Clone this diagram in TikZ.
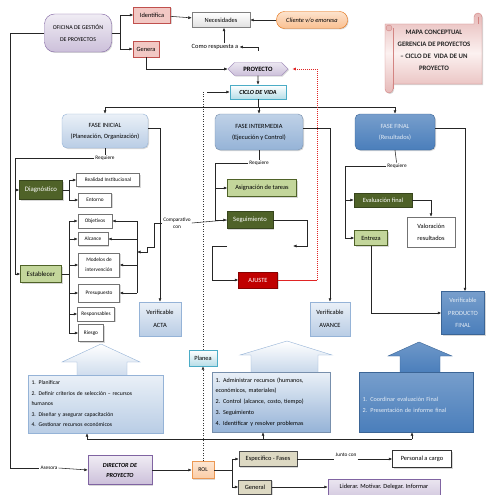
\documentclass[tikz,border=0pt]{standalone}
\usepackage{fontspec}
\setmainfont{Carlito}
\usetikzlibrary{arrows.meta,shapes.symbols,shadows}

\definecolor{oliva}{HTML}{4F6228}
\definecolor{verdeclaro}{HTML}{C3D69B}
\definecolor{rosado}{HTML}{F2C8C4}
\definecolor{rojizo}{HTML}{C0504D}
\definecolor{rojo}{HTML}{C00000}
\definecolor{rojovivo}{HTML}{E02424}
\definecolor{lila}{HTML}{CCC0DA}
\definecolor{lilaborde}{HTML}{8064A2}
\definecolor{azulclaro}{HTML}{B9CDE5}
\definecolor{azulmedio}{HTML}{95B3D7}
\definecolor{azul}{HTML}{4A7EBB}
\definecolor{celeste}{HTML}{B7DEE8}
\definecolor{celesteborde}{HTML}{4BACC6}
\definecolor{naranja}{HTML}{FAC090}
\definecolor{naranjaborde}{HTML}{E46C0A}
\definecolor{beige}{HTML}{DDD9C3}
\definecolor{rosatitulo}{HTML}{E6B9B8}

\begin{document}
\begin{tikzpicture}[x=1pt,y=-1pt,
  >={Latex[length=3.5pt,width=3pt]},
  every node/.style={font=\fontsize{6.4}{11}\selectfont, inner sep=1pt, align=center},
  linea/.style={draw=black!85, line width=0.55pt},
  punteada/.style={draw=black!80, line width=0.6pt, dash pattern=on 1pt off 1.5pt},
  chica/.style={font=\fontsize{5.3}{7.5}\selectfont},
  dim/.style 2 args={minimum width=#1, minimum height=#2},
  sombra/.style={drop shadow={shadow xshift=1pt, shadow yshift=-1pt, opacity=0.3}},
  blanco/.style={draw=black!55, fill=white, sombra},
  oscuro/.style={draw=oliva!70!black, fill=oliva, text=white, sombra},
  claro/.style={draw=oliva, fill=verdeclaro, sombra},
  rosa/.style={draw=rojizo, fill=rosado, sombra},
  morado/.style={draw=lilaborde, top color=white!70!lila, bottom color=lila, sombra},
  cian/.style={draw=celesteborde, top color=white, bottom color=celeste, sombra},
  faseclara/.style={draw=azulmedio, top color=white!70!azulclaro, bottom color=azulclaro, sombra},
  fasemedia/.style={draw=azulmedio!80!black, top color=white!40!azulmedio, bottom color=azulmedio, sombra},
  faseoscura/.style={draw=azul!80!black, top color=white!25!azul, bottom color=azul, text=white!85!azul, sombra},
  tostado/.style={draw=black!70, fill=beige, sombra}
]
\useasboundingbox (0,0) rectangle (495,495);
\fill[white] (0,0) rectangle (495,495);

% titulo
\draw[draw=rojizo!70, top color=rosatitulo, bottom color=rosatitulo, middle color=rosado!25, sombra]
  (385,24) -- (474,24) -- (474,17) arc[start angle=180, end angle=360, radius=4] -- (482,84)
  -- (393,84) -- (393,89) arc[start angle=0, end angle=180, radius=4] -- cycle;
\draw[draw=rojizo!70, fill=rosatitulo] (389,28) circle[radius=3];
\draw[draw=rojizo!70] (393,28) -- (393,89) (478,17) -- (478,24);
\node[font=\fontsize{6.8}{12}\selectfont\bfseries, text=black!85] (titulo) at (434,50)
  {MAPA CONCEPTUAL\\GERENCIA DE PROYECTOS\\– CICLO DE~ VIDA DE UN\\PROYECTO};

% parte superior
\node[morado, rounded corners=10pt, dim={67pt}{38pt}, font=\fontsize{5.9}{12}\selectfont] (ogp) at (78,33) {OFICINA DE GESTIÓN\\DE PROYECTOS};
\node[rosa, dim={37pt}{16pt}] (identifica) at (152,15) {Identifica};
\node[rosa, dim={26pt}{16pt}] (genera) at (146,49) {Genera};
\node[draw=black!50, top color=white, bottom color=black!12, dim={58pt}{15pt}, sombra] (necesidades) at (221,20) {Necesidades};
\node[draw=naranjaborde, top color=naranja!45, bottom color=naranja, rounded corners=8pt, dim={71pt}{17pt}, font=\fontsize{6.4}{11}\selectfont\itshape, sombra] (cliente) at (312,20) {Cliente v/o emoresa};
\node (respuesta) at (215,47) {Como respuesta a};
\coordinate (gancho) at (258,51);
\node[signal, signal to=east and west, draw=lilaborde!70, top color=white!60!lila, bottom color=lila, dim={60pt}{13pt}, font=\fontsize{6.6}{11}\selectfont\bfseries, sombra] (proyecto) at (258,69) {PROYECTO};
\node[cian, dim={56pt}{14pt}, font=\fontsize{6.2}{11}\selectfont\bfseries\itshape] (ciclo) at (258,92) {CICLO DE VIDA};

% fases
\node[faseclara, rounded corners=5pt, dim={86pt}{34pt}] (faseini) at (105,131) {FASE INICIAL\\(Planeación, Organización)};
\node[fasemedia, rounded corners=5pt, dim={88pt}{36pt}] (faseint) at (259,132) {FASE INTERMEDIA\\(Ejecución y Control)};
\node[faseoscura, rounded corners=5pt, dim={80pt}{36pt}] (fasefin) at (395,132) {FASE FINAL\\(Resultados)};
\node[chica] (req1) at (105,158) {Requiere};
\node[chica] (req2) at (259,163) {Requiere};
\node[chica] (req3) at (397,166) {Requiere};

% fase inicial
\node[oscuro, dim={43pt}{19pt}, font=\fontsize{6.8}{11}\selectfont] (diag) at (41,190) {Diagnóstico};
\node[claro, dim={41pt}{17pt}, font=\fontsize{6.8}{11}\selectfont] (estab) at (41,274) {Establecer};
\node[blanco, dim={63pt}{13pt}, chica] (realidad) at (108,180) {Realidad Institucional};
\node[blanco, dim={33pt}{14pt}, chica] (entorno) at (95,200) {Entorno};
\node[blanco, dim={34pt}{14pt}, chica] (objetivos) at (95,221) {Objetivos};
\node[blanco, dim={30pt}{13pt}, chica] (alcance) at (93,239) {Alcance};
\node[blanco, dim={41pt}{24pt}, font=\fontsize{5.3}{10}\selectfont] (modelos) at (99,265) {Modelos de\\intervención};
\node[blanco, dim={41pt}{18pt}, chica] (presupuesto) at (99,293) {Presupuesto};
\node[blanco, dim={37pt}{14pt}, chica] (responsables) at (96,314) {Responsables};
\node[blanco, dim={25pt}{17pt}, chica] (riesgo) at (91,333) {Riesgo};
\node[chica] (comparativo) at (177,223) {Comparativo\\con};
\node[faseclara, dim={42pt}{34pt}, font=\fontsize{6.4}{13}\selectfont] (acta) at (160,319) {Verificable\\ACTA};

% fase intermedia
\node[claro, dim={69pt}{17pt}] (asignacion) at (262,188) {Asignación de tareas};
\node[oscuro, dim={46pt}{17pt}, font=\fontsize{6.6}{11}\selectfont] (seguimiento) at (250,220) {Seguimiento};
\node[draw=rojo!70!black, fill=rojo, text=white, dim={39pt}{16pt}, sombra] (ajuste) at (258,280) {AJUSTE};
\node[faseclara, dim={40pt}{34pt}, font=\fontsize{6.4}{13}\selectfont] (avance) at (330,319) {Verificable\\AVANCE};
\coordinate (s1) at (293,246);
\coordinate (s2) at (227,246);

% fase final
\node[oscuro, dim={58pt}{14pt}] (evalfinal) at (383,200) {Evaluación final};
\node[blanco, dim={48pt}{30pt}, font=\fontsize{6.4}{12}\selectfont] (valoracion) at (431,232) {Valoración\\resultados};
\node[claro, dim={33pt}{15pt}] (entreza) at (371,238) {Entreza};
\node[faseoscura, dim={43pt}{43pt}, font=\fontsize{6.4}{12.5}\selectfont] (producto) at (463,313) {Verificable\\PRODUCTO\\FINAL};

% flechas grandes
\draw[draw=azulmedio, top color=white, bottom color=azulclaro!70]
  (77,376) -- (77,362) -- (62,362) -- (101,344) -- (140,362) -- (127,362) -- (127,376) -- cycle;
\draw[draw=azulmedio, top color=white, bottom color=azulclaro!80]
  (251,373) -- (251,355) -- (240,355) -- (287,341) -- (332,355) -- (318,355) -- (318,373) -- cycle;
\draw[draw=azul!80!black, top color=white!20!azul, bottom color=azul]
  (400,373) -- (400,356) -- (388,356) -- (419,342) -- (452,356) -- (440,356) -- (440,373) -- cycle;
\node[faseclara, dim={135pt}{58pt}, text width=128pt, align=left, font=\fontsize{5.7}{10.5}\selectfont] (caja1) at (95.5,404)
  {1. Planificar\\2. Definir criterios de selección – recursos\\humanos\\3. Diseñar y asegurar capacitación\\4. Gestionar recursos económicos};
\node[fasemedia, top color=white!70!azulclaro, bottom color=azulmedio, dim={118pt}{60pt}, text width=111pt, align=left, font=\fontsize{6.1}{10.8}\selectfont] (caja2) at (271,402)
  {1. Administrar recursos (humanos,\\económicos, materiales)\\2. Control (alcance, costo, tiempo)\\3. Seguimiento\\4. Identificar y resolver problemas};
\node[faseoscura, dim={114pt}{60pt}, text width=107pt, align=left, font=\fontsize{6.2}{11}\selectfont] (caja3) at (416,402)
  {\rule{0pt}{10pt}1. Coordinar evaluación Final\\2. Presentación de informe final};
\coordinate (t1) at (87,439);
\coordinate (t2) at (263,439);
\coordinate (t3) at (412,439);

% parte inferior
\node[cian, dim={28pt}{16pt}] (planea) at (203,358) {Planea};
\node[morado, dim={64pt}{29pt}, font=\fontsize{6.2}{10}\selectfont\bfseries\itshape] (director) at (120,470) {DIRECTOR DE\\PROYECTO};
\node[chica] (asesora) at (49,468) {Asesora};
\node[draw=naranjaborde!70, top color=naranja!40, bottom color=naranja!80, dim={22pt}{17pt}, font=\fontsize{5.8}{11}\selectfont, sombra] (rol) at (203,470) {ROL};
\node[tostado, dim={58pt}{15pt}] (especifico) at (268,459) {Especifico - Fases};
\node[tostado, dim={33pt}{14pt}] (general) at (255,487) {General};
\node[chica] (junto) at (346,455) {Junto con};
\node[blanco, draw=black!80, dim={59pt}{17pt}] (personal) at (422,459) {Personal a cargo};
\node[morado, top color=white!60!lila, bottom color=lila!80, dim={112pt}{16pt}, font=\fontsize{6.3}{11}\selectfont] (liderar) at (384,487) {Liderar. Motivar. Delegar. Informar};

% conectores superiores
\coordinate (o1) at (120,33);
\draw[linea] (ogp.east) -- (o1);
\draw[linea,->] (o1) |- (identifica.west);
\draw[linea,->] (o1) |- (genera.west);
\draw[linea,->] (identifica) -- (necesidades);
\draw[linea,->] (cliente) -- (necesidades);
\draw[linea,->] ([xshift=9pt]respuesta.north) -- ([xshift=3pt]necesidades.south);
\draw[linea,->] (gancho) -- (gancho |- respuesta.east) -- (respuesta.east);
\draw[linea,->] (genera.south) |- (proyecto.west);
\draw[linea,->] (proyecto) -- (ciclo);
\coordinate (bus) at (258,107);
\draw[linea] (ciclo.south) -- (bus);
\draw[linea] (faseini.north |- bus) -- (fasefin.north |- bus);
\foreach \f in {faseini,faseint,fasefin}
  \draw[linea,->] (\f.north |- bus) -- (\f.north);
\draw[punteada] (planea.north) -- (planea.north |- ciclo.west);
\draw[linea,->] ([xshift=4pt]planea.north |- ciclo.west) -- (ciclo.west);
\draw[draw=rojovivo, line width=0.6pt] (ajuste.east) -- (317,280);
\draw[draw=rojovivo, line width=0.7pt, dash pattern=on 1pt off 1pt, ->] (317,280) -- (317,69) -- ([xshift=4pt]proyecto.east);

% verificables
\draw[linea,->] ([yshift=3pt]faseini.east) -| (acta.north);
\draw[linea,->] ([yshift=4pt]faseint.east) -| (avance.north);
\draw[linea,->] ([yshift=4pt]fasefin.east) -| ([xshift=2pt]producto.north);

% fase inicial
\coordinate (r1) at (15,158);
\draw[linea] (faseini.south) -- (req1);
\draw[linea,->] (req1.west) -- (r1) |- (estab.west);
\draw[linea,->] (r1) |- (diag.west);
\coordinate (d1) at (69,190);
\draw[linea] (diag.east) -- (d1);
\draw[linea,->] (d1) |- (realidad.west);
\draw[linea,->] (d1) |- (entorno.west);
\coordinate (e1) at (69,274);
\draw[linea] (estab.east) -- (e1);
\foreach \n in {objetivos,alcance,modelos,presupuesto,responsables,riesgo}
  \draw[linea,->] (e1) |- (\n.west);
\coordinate (c1) at (137,252);
\draw[linea] (objetivos.east -| c1) -- (presupuesto.east -| c1);
\foreach \n in {objetivos,alcance,modelos,presupuesto}
  \draw[linea,->] (\n.east -| c1) -- (\n.east);
\draw[linea] (seguimiento.west) -- (comparativo.east);
\draw[linea,->] (comparativo.west) -- ++(-8,0) |- (147,247) |- (c1);

% fase intermedia
\coordinate (r2) at (215,163);
\draw[linea] (faseint.south) -- (req2);
\draw[linea,->] (req2.west) -- (r2) |- (seguimiento.west);
\draw[linea,->] (r2) |- (asignacion.west);
\draw[linea,->] (seguimiento.east) -| (307,246) -- (s1);
\draw[linea,->] (s2) -- (212,246) |- (ajuste.west);

% fase final
\coordinate (r3) at (345,166);
\draw[linea] (fasefin.south) -- (req3);
\draw[linea,->] (req3.west) -- (r3) |- (entreza.west);
\draw[linea,->] (r3) |- (evalfinal.west);
\draw[linea,->] (evalfinal.east) -| (valoracion.north);
\draw[linea,->] (entreza.south) |- (producto.west);

% conectores inferiores
\draw[linea] (t1) -- (t3);
\draw[linea,->] (t1) -- (caja1.south -| t1);
\draw[linea,->] (t2) -- (caja2.south -| t2);
\draw[linea,->] (t3) -- (caja3.south -| t3);
\draw[punteada,->] (rol.north) -- (planea.south);
\draw[linea] (ogp.west) -- (10,33) |- (asesora.west);
\draw[linea,->] (asesora.east) -- (director.west);
\draw[linea,->] (director) -- (rol);
\coordinate (b1) at (232,470);
\draw[linea] (rol.east) -- (b1);
\draw[linea,->] (b1) |- (especifico.west);
\draw[linea,->] (b1) |- (general.west);
\draw[linea] (especifico.east) -- (especifico.east -| junto.west);
\draw[linea,->] (especifico.east -| junto.east) -- (personal.west);
\draw[linea,->] (general) -- (liderar);
\end{tikzpicture}
\end{document}
